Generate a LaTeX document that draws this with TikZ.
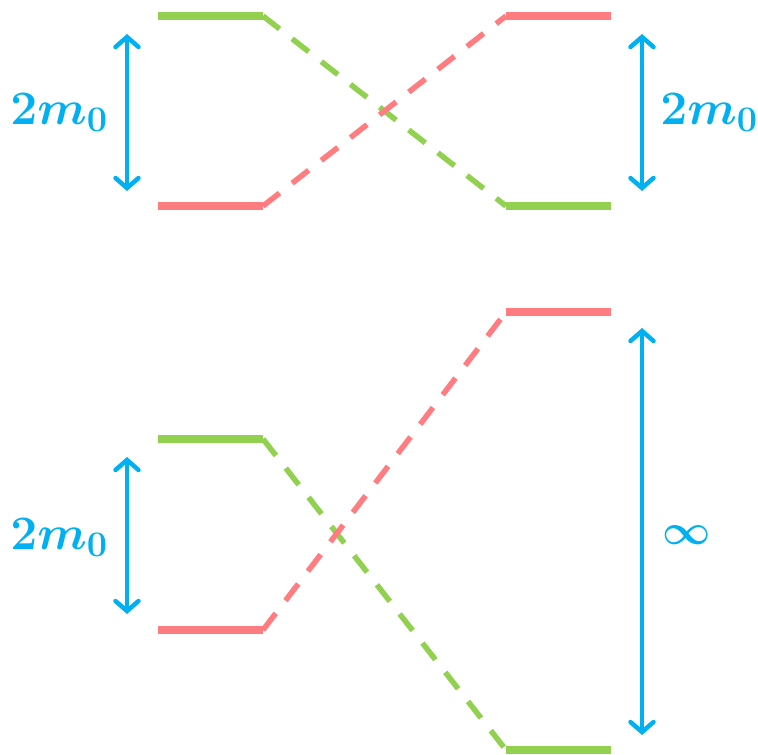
\documentclass[tikz,border=0pt]{standalone}
\usepackage{fix-cm}
\DeclareMathSizes{48}{48}{36}{24}
\DeclareMathSizes{42}{42}{30}{21}
\usetikzlibrary{arrows.meta}
\definecolor{lvgreen}{HTML}{92D050}
\definecolor{lvred}{HTML}{FF7C80}
\definecolor{gapblue}{HTML}{00B0F0}
\begin{document}
\begin{tikzpicture}[x=1pt,y=-1pt,
  level/.style={line width=8.5pt},
  link/.style={line width=5.5pt,dash pattern=on 21pt off 16pt},
  gap/.style={gapblue,line width=4.5pt,{Straight Barb[length=10pt,width=23pt,line cap=round]}-{Straight Barb[length=10pt,width=23pt,line cap=round]}},
  lab/.style={text=gapblue,inner sep=0pt,font=\fontsize{48}{56}\selectfont\boldmath}]
  \useasboundingbox (0,0) rectangle (758,755);
  \coordinate (tlG1) at (158,16);  \coordinate (tlG2) at (263,16);
  \coordinate (tlR1) at (158,206); \coordinate (tlR2) at (263,206);
  \coordinate (trR1) at (506,16);  \coordinate (trR2) at (611,16);
  \coordinate (trG1) at (506,206); \coordinate (trG2) at (611,206);
  \draw[level,lvgreen] (tlG1)--(tlG2);
  \draw[level,lvred] (tlR1)--(tlR2);
  \draw[level,lvred] (trR1)--(trR2);
  \draw[level,lvgreen] (trG1)--(trG2);
  \draw[link,lvgreen] (tlG2)--(trG1);
  \draw[link,lvred] (tlR2)--(trR1);
  \coordinate (tlA1) at (127,34);  \coordinate (tlA2) at (127,191);
  \coordinate (trA1) at (642,34);  \coordinate (trA2) at (642,191);
  \draw[gap] (tlA1)--(tlA2);
  \draw[gap] (trA1)--(trA2);
  \node[lab,anchor=base] (tlM) at (59,124) {$2m_0$};
  \node[lab,anchor=base] (trM) at (709,124) {$2m_0$};
  \coordinate (blG1) at (158,439); \coordinate (blG2) at (263,439);
  \coordinate (blR1) at (158,630); \coordinate (blR2) at (263,630);
  \coordinate (brR1) at (506,312); \coordinate (brR2) at (611,312);
  \coordinate (brG1) at (506,750); \coordinate (brG2) at (611,750);
  \draw[level,lvgreen] (blG1)--(blG2);
  \draw[level,lvred] (blR1)--(blR2);
  \draw[level,lvred] (brR1)--(brR2);
  \draw[level,lvgreen] (brG1)--(brG2);
  \draw[link,lvgreen] (blG2)--(brG1);
  \draw[link,lvred] (blR2)--(brR1);
  \coordinate (blA1) at (127,457); \coordinate (blA2) at (127,614);
  \coordinate (brA1) at (642,328); \coordinate (brA2) at (642,735);
  \draw[gap] (blA1)--(blA2);
  \draw[gap] (brA1)--(brA2);
  \node[lab,anchor=base] (blM) at (59,549) {$2m_0$};
  \node[lab,font=\fontsize{42}{50}\selectfont\boldmath] (brM) at (687,535) {$\infty$};
\end{tikzpicture}
\end{document}
